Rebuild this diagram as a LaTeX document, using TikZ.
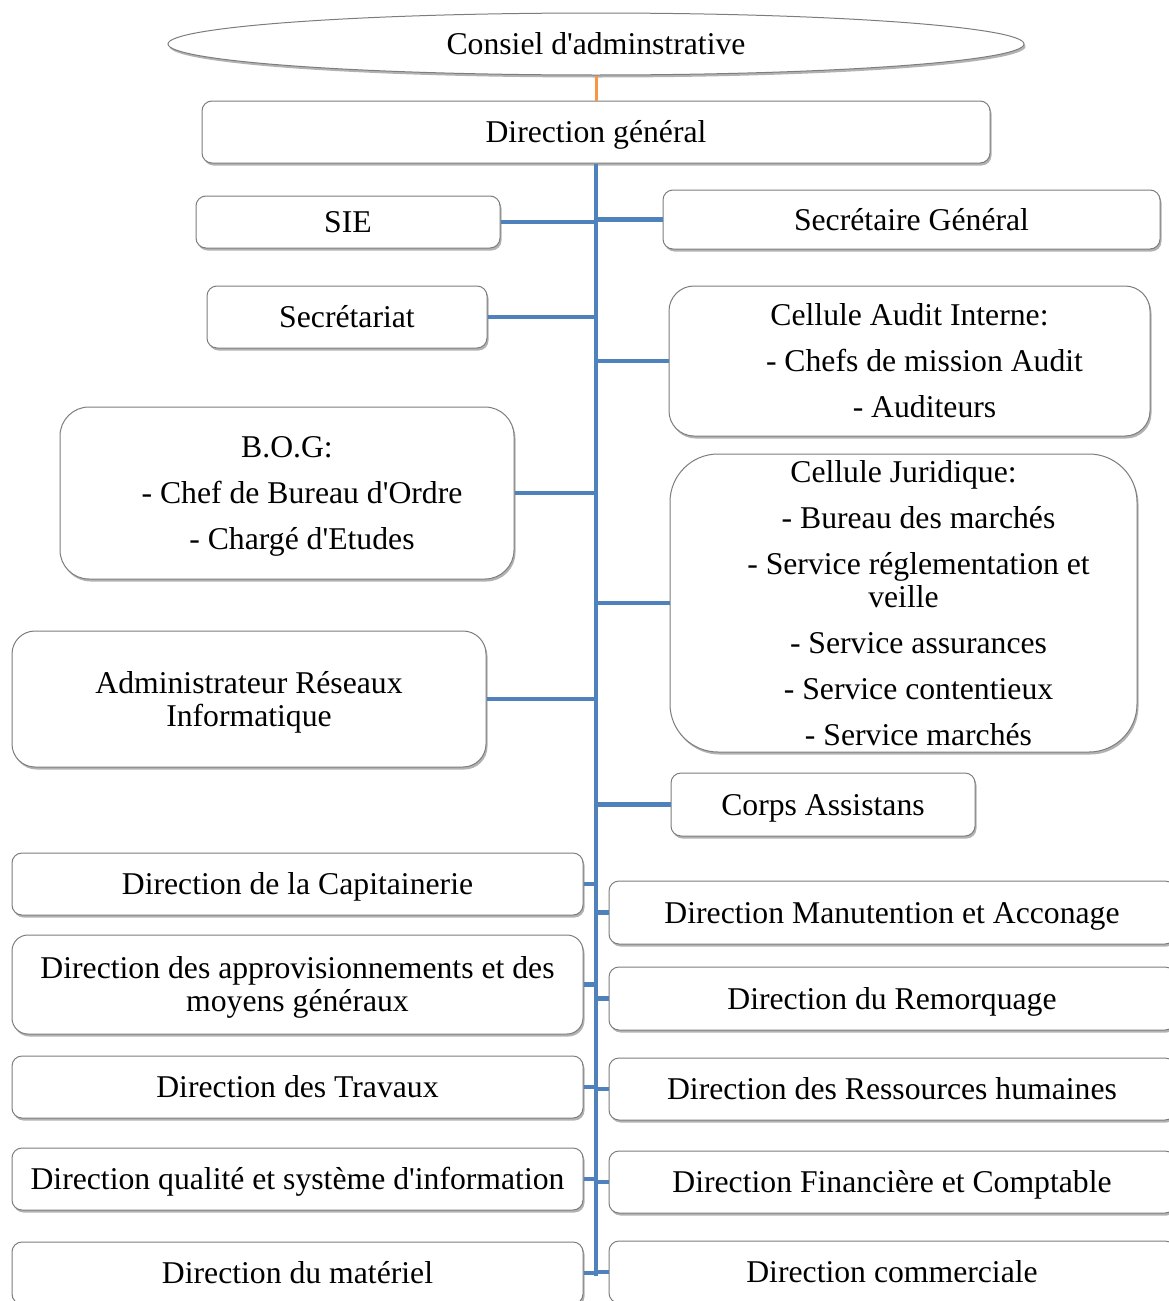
\documentclass[tikz,border=0pt]{standalone}
\usepackage{fontspec}
\setmainfont{Liberation Serif}
\usetikzlibrary{shapes.geometric,shadows}

\definecolor{trunkblue}{RGB}{79,129,189}
\definecolor{topline}{RGB}{247,150,70}
\definecolor{boxborder}{RGB}{125,125,125}

\newcommand\haut{\rule{0pt}{28.2pt}}
\newcommand\bas{\rule[-6.8pt]{0pt}{6.8pt}}
\newcommand\tiret{\hspace*{30pt}- }
\newcommand\apos{\textquotesingle}

\tikzset{
  unit/.style={draw=boxborder, line width=1pt, fill=white, rounded corners=10pt,
    inner sep=0pt, align=center, font=\fontsize{31.7}{33}\selectfont,
    execute at begin node=\haut, execute at end node=\bas,
    drop shadow={shadow xshift=1.5pt, shadow yshift=-2.5pt, fill=black, opacity=0.3}},
  branch/.style={draw=trunkblue, line width=4.5pt},
}

\begin{document}
\begin{tikzpicture}[x=1pt,y=-1pt]
  \useasboundingbox (0,0) rectangle (1169,1301);

  % sommet
  \node[unit, ellipse, minimum width=856pt, minimum height=62pt] (conseil) at (596,44) {Consiel d\apos adminstrative};
  \node[unit, minimum width=788pt, minimum height=62pt] (dg) at (596,132) {Direction général};

  % rattachements directs
  \node[unit, minimum width=304pt, minimum height=52pt] (sie) at (348,222) {SIE};
  \node[unit, minimum width=497pt, minimum height=59pt] (sg) at (911.5,219.5) {Secrétaire Général};
  \node[unit, minimum width=280pt, minimum height=62pt] (secretariat) at (347,317) {Secrétariat};
  \node[unit, rounded corners=25pt, minimum width=481pt, minimum height=150pt] (audit) at (909.5,361)
    {\haut Cellule Audit Interne:\\[13pt] \tiret Chefs de mission Audit\\[13pt] \tiret Auditeurs\bas};
  \node[unit, rounded corners=29pt, minimum width=454pt, minimum height=172pt] (bog) at (287,493)
    {\haut B.O.G:\\[13pt] \tiret Chef de Bureau d\apos Ordre\\[13pt] \tiret Chargé d\apos Etudes\bas};
  \node[unit, rounded corners=48pt, minimum width=467pt, minimum height=294pt] (juridique) at (903.5,603)
    {\haut Cellule Juridique:\\[13pt] \tiret Bureau des marchés\\[13pt] \tiret Service réglementation et\\veille\\[13pt]
     \tiret Service assurances\\[13pt] \tiret Service contentieux\\[13pt] \tiret Service marchés\bas};
  \node[unit, rounded corners=23pt, minimum width=474pt, minimum height=136pt] (admin) at (249,699)
    {\haut Administrateur Réseaux\\Informatique\bas};
  \node[unit, minimum width=304pt, minimum height=63pt] (corps) at (823,804.5) {Corps Assistans};

  % directions, colonne gauche
  \node[unit, minimum width=571pt, minimum height=62pt] (capitainerie) at (297.5,884) {Direction de la Capitainerie};
  \node[unit, rounded corners=16pt, minimum width=571pt, minimum height=99pt] (appro) at (297.5,984.5)
    {\haut Direction des approvisionnements et des\\moyens généraux\bas};
  \node[unit, minimum width=571pt, minimum height=62pt] (travaux) at (297.5,1087) {Direction des Travaux};
  \node[unit, minimum width=571pt, minimum height=62pt] (qualite) at (297.5,1179) {Direction qualité et système d\apos information};
  \node[unit, minimum width=571pt, minimum height=62pt] (materiel) at (297.5,1273) {Direction du matériel};

  % directions, colonne droite
  \node[unit, minimum width=566pt, minimum height=63pt] (manutention) at (892,912.5) {Direction Manutention et Acconage};
  \node[unit, minimum width=566pt, minimum height=63pt] (remorquage) at (892,998.5) {Direction du Remorquage};
  \node[unit, minimum width=566pt, minimum height=62pt] (rh) at (892,1089) {Direction des Ressources humaines};
  \node[unit, minimum width=566pt, minimum height=62pt] (finance) at (892,1182) {Direction Financière et Comptable};
  \node[unit, minimum width=566pt, minimum height=62pt] (commerciale) at (892,1272) {Direction commerciale};

  % liaisons
  \draw[topline, line width=3pt] (conseil.south) -- (dg.north);
  \coordinate (bas) at (596,1276);
  \draw[branch] (dg.south) -- (bas);
  \foreach \n in {sie,secretariat,bog,admin,capitainerie,appro,travaux,qualite,materiel}
    \draw[branch] (\n.east) -- (\n.east -| bas);
  \foreach \n in {sg,audit,juridique,corps,manutention,remorquage,rh,finance,commerciale}
    \draw[branch] (\n.west) -- (\n.west -| bas);

\end{tikzpicture}
\end{document}
